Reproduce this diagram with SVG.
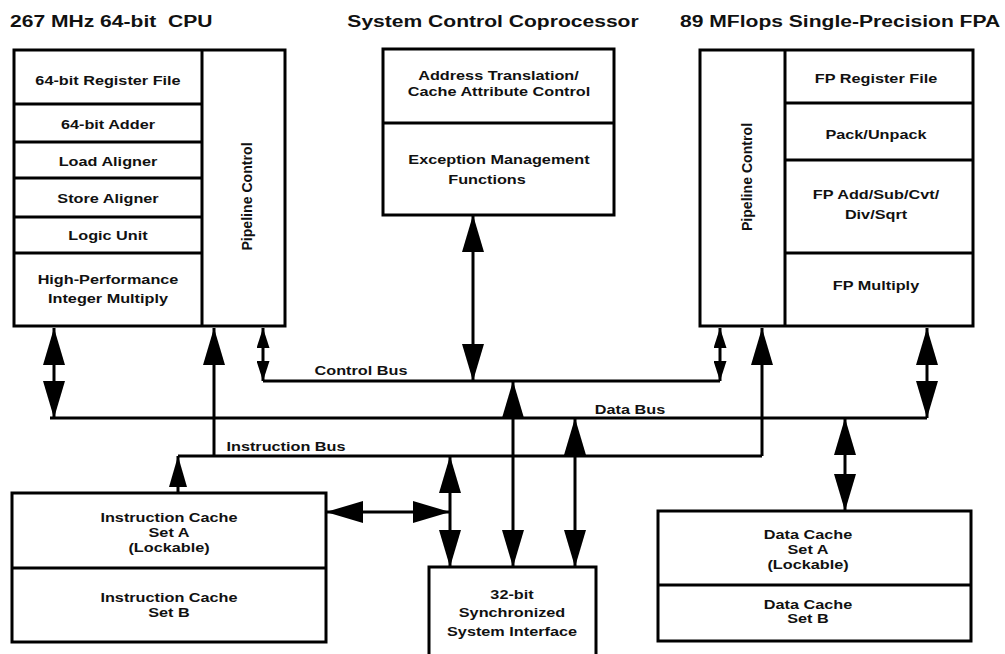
<svg xmlns="http://www.w3.org/2000/svg" width="1005" height="654" viewBox="0 0 1005 654">
<style>
  .box{fill:#fff;stroke:#000;stroke-width:3}
  .div{fill:none;stroke:#000;stroke-width:3}
  .ln{fill:none;stroke:#000;stroke-width:3;stroke-linecap:butt}
  .b{font-family:"Liberation Sans",Arial,Helvetica,sans-serif;font-weight:bold;font-size:12.5px;text-anchor:middle;fill:#111}
  .h{font-family:"Liberation Sans",Arial,Helvetica,sans-serif;font-weight:bold;font-size:17px;fill:#111;white-space:pre}
</style>
<defs>
  <marker id="big" markerUnits="userSpaceOnUse" markerWidth="37" markerHeight="22" viewBox="0 0 37 22" refX="37" refY="11" orient="auto-start-reverse"><path d="M0,0 L37,11 L0,22 z" fill="#000"/></marker>
  <marker id="mid" markerUnits="userSpaceOnUse" markerWidth="31" markerHeight="18" viewBox="0 0 31 18" refX="31" refY="9" orient="auto-start-reverse"><path d="M0,0 L31,9 L0,18 z" fill="#000"/></marker>
  <marker id="sm" markerUnits="userSpaceOnUse" markerWidth="20" markerHeight="13" viewBox="0 0 20 13" refX="20" refY="6.5" orient="auto-start-reverse"><path d="M0,0 L20,6.5 L0,13 z" fill="#000"/></marker>
</defs>
<rect width="1005" height="654" fill="#fff"/>

<g id="titles">
  <text class="h" xml:space="preserve" transform="translate(10 27) scale(1.24 1)">267 MHz 64-bit  CPU</text>
  <text class="h" style="text-anchor:middle" transform="translate(493 27) scale(1.24 1)">System Control Coprocessor</text>
  <text class="h" transform="translate(680 27) scale(1.24 1)">89 MFlops Single-Precision FPA</text>
</g>

<g id="cpu">
  <rect class="box" x="14" y="50" width="271" height="276"/>
  <path class="div" d="M202 50 V326 M14 104 H202 M14 142 H202 M14 178 H202 M14 217 H202 M14 253 H202"/>
  <text class="b" transform="translate(108 85) scale(1.3 1)">64-bit Register File</text>
  <text class="b" transform="translate(108 129) scale(1.3 1)">64-bit Adder</text>
  <text class="b" transform="translate(108 166) scale(1.3 1)">Load Aligner</text>
  <text class="b" transform="translate(108 203) scale(1.3 1)">Store Aligner</text>
  <text class="b" transform="translate(108 240) scale(1.3 1)">Logic Unit</text>
  <text class="b" transform="translate(108 284) scale(1.3 1)">High-Performance</text>
  <text class="b" transform="translate(108 303) scale(1.3 1)">Integer Multiply</text>
  <text class="b" transform="translate(252 196.5) rotate(-90) scale(1.13 1.23)">Pipeline Control</text>
</g>

<g id="coprocessor">
  <rect class="box" x="383" y="49" width="231" height="166"/>
  <path class="div" d="M383 123 H614"/>
  <text class="b" transform="translate(498.5 80) scale(1.3 1)">Address Translation/</text>
  <text class="b" transform="translate(499 96) scale(1.3 1)">Cache Attribute Control</text>
  <text class="b" transform="translate(499 164) scale(1.3 1)">Exception Management</text>
  <text class="b" transform="translate(487 184) scale(1.3 1)">Functions</text>
</g>

<g id="fpa">
  <rect class="box" x="700" y="50" width="273" height="276"/>
  <path class="div" d="M785 50 V326 M785 103 H973 M785 160 H973 M785 253 H973"/>
  <text class="b" transform="translate(876 83) scale(1.3 1)">FP Register File</text>
  <text class="b" transform="translate(876 139) scale(1.3 1)">Pack/Unpack</text>
  <text class="b" transform="translate(876 199) scale(1.3 1)">FP Add/Sub/Cvt/</text>
  <text class="b" transform="translate(876 219) scale(1.3 1)">Div/Sqrt</text>
  <text class="b" transform="translate(876 290) scale(1.3 1)">FP Multiply</text>
  <text class="b" transform="translate(752 177) rotate(-90) scale(1.13 1.23)">Pipeline Control</text>
</g>

<g id="icache">
  <rect class="box" x="12" y="493" width="314" height="149"/>
  <path class="div" d="M12 568 H326"/>
  <text class="b" transform="translate(169 522) scale(1.3 1)">Instruction Cache</text>
  <text class="b" transform="translate(169 537) scale(1.3 1)">Set A</text>
  <text class="b" transform="translate(169 552) scale(1.3 1)">(Lockable)</text>
  <text class="b" transform="translate(169 602) scale(1.3 1)">Instruction Cache</text>
  <text class="b" transform="translate(169 617) scale(1.3 1)">Set B</text>
</g>

<g id="sysif">
  <path class="box" d="M429 660 V567 H596 V660"/>
  <text class="b" transform="translate(512 599) scale(1.3 1)">32-bit</text>
  <text class="b" transform="translate(512 617) scale(1.3 1)">Synchronized</text>
  <text class="b" transform="translate(512 636) scale(1.3 1)">System Interface</text>
</g>

<g id="dcache">
  <rect class="box" x="658" y="511" width="313" height="130"/>
  <path class="div" d="M658 585 H971"/>
  <text class="b" transform="translate(808 539) scale(1.3 1)">Data Cache</text>
  <text class="b" transform="translate(808 554) scale(1.3 1)">Set A</text>
  <text class="b" transform="translate(808 569) scale(1.3 1)">(Lockable)</text>
  <text class="b" transform="translate(808 609) scale(1.3 1)">Data Cache</text>
  <text class="b" transform="translate(808 623) scale(1.3 1)">Set B</text>
</g>

<g id="connectors">
  <path class="ln" d="M263 381 H720"/>
  <path class="ln" d="M50 418 H927"/>
  <path class="ln" d="M178 456 H762"/>
  <path class="ln" d="M54 328 V418" marker-start="url(#big)" marker-end="url(#big)"/>
  <path class="ln" d="M214 456 V328" marker-end="url(#big)"/>
  <path class="ln" d="M263 328 V381" marker-start="url(#sm)" marker-end="url(#sm)"/>
  <path class="ln" d="M473 215 V381" marker-start="url(#big)" marker-end="url(#big)"/>
  <path class="ln" d="M720 328 V381" marker-start="url(#sm)" marker-end="url(#sm)"/>
  <path class="ln" d="M762 456 V328" marker-end="url(#big)"/>
  <path class="ln" d="M927 328 V418" marker-start="url(#big)" marker-end="url(#big)"/>
  <path class="ln" d="M178 493 V456" marker-end="url(#mid)"/>
  <path class="ln" d="M326 512 H450" marker-start="url(#big)" marker-end="url(#big)"/>
  <path class="ln" d="M450 456 V567" marker-start="url(#big)" marker-end="url(#big)"/>
  <path class="ln" d="M513 567 V381" marker-start="url(#big)" marker-end="url(#big)"/>
  <path class="ln" d="M575 567 V418" marker-start="url(#big)" marker-end="url(#big)"/>
  <path class="ln" d="M845 418 V511" marker-start="url(#big)" marker-end="url(#big)"/>
</g>

<g id="buslabels">
  <text class="b" transform="translate(361 375) scale(1.3 1)">Control Bus</text>
  <text class="b" transform="translate(630 414) scale(1.3 1)">Data Bus</text>
  <text class="b" transform="translate(286 451) scale(1.3 1)">Instruction Bus</text>
</g>
</svg>
